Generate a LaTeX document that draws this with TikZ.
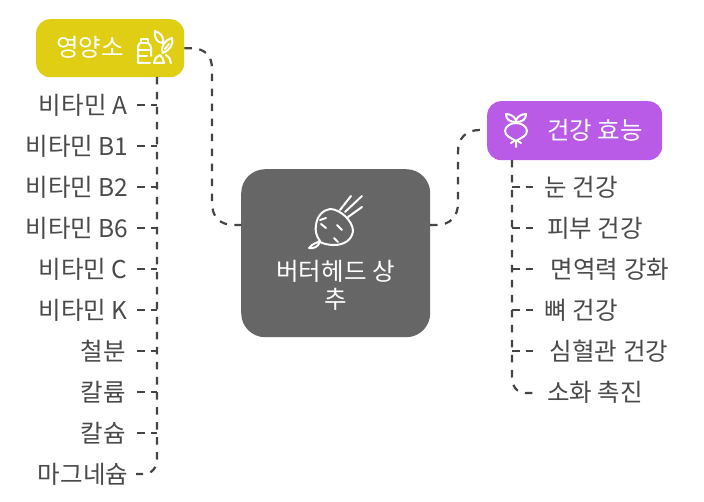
\documentclass[tikz,border=0pt]{standalone}
\usepackage{fontspec}
\setmainfont{Noto Sans CJK KR}
\definecolor{txt}{HTML}{4A4A4A}
\definecolor{ln}{HTML}{444444}
\definecolor{ybox}{HTML}{E0CE14}
\definecolor{gbox}{HTML}{666666}
\definecolor{pbox}{HTML}{B95BE6}
\tikzset{
 lab/.style={font=\fontsize{24.5}{28}\selectfont,text=txt,inner sep=0pt},
 wlab/.style={font=\fontsize{24.5}{28}\selectfont,text=white,inner sep=0pt,align=center},
 conn/.style={draw=ln,line width=2.2pt,dash pattern=on 7.5pt off 7.5pt},
 twig/.style={draw=ln,line width=2.2pt,dash pattern=on 7.5pt off 6pt},
 box/.style={inner sep=0pt,rounded corners=#1,anchor=north west},
 ico/.style={draw=white,line width=2pt,line cap=round,line join=round,fill=none}
}
\begin{document}
\begin{tikzpicture}[x=1pt,y=-1pt]
\useasboundingbox (0,0) rectangle (704,502);
\fill[white] (0,0) rectangle (704,502);
% boxes
\node[box=14pt,fill=ybox,minimum width=148pt,minimum height=58pt] (nut) at (36,19) {};
\node[box=24pt,fill=gbox,minimum width=189pt,minimum height=168pt] (root) at (241,169) {};
\node[box=14pt,fill=pbox,minimum width=175pt,minimum height=59pt] (eff) at (487,101) {};
% connector ends
\coordinate (rootw) at (241,225);
\coordinate (roote) at (430,225);
\coordinate (nutb) at (157,77);
\coordinate (effb) at (512,160);
\coordinate (endl) at (136,474);
\coordinate (endr) at (535,393);
% leaf labels
\node[lab] (a1) at (83,105) {비타민 A};
\node[lab] (a2) at (77,146) {비타민 B1};
\node[lab] (a3) at (77,187) {비타민 B2};
\node[lab] (a4) at (77,228) {비타민 B6};
\node[lab] (a5) at (83,269) {비타민 C};
\node[lab] (a6) at (83,310) {비타민 K};
\node[lab] (a7) at (103,351) {철분};
\node[lab] (a8) at (103,392) {칼륨};
\node[lab] (a9) at (103,433) {칼슘};
\node[lab] (a10) at (83,474) {마그네슘};
\node[lab] (b1) at (581.5,187) {눈 건강};
\node[lab] (b2) at (595,228) {피부 건강};
\node[lab] (b3) at (610,269) {면역력 강화};
\node[lab] (b4) at (581.5,310) {뼈 건강};
\node[lab] (b5) at (609,351) {심혈관 건강};
\node[lab] (b6) at (595,392) {소화 촉진};
% main connectors
\draw[conn] (nut.east) -- ++(6,0) .. controls +(14,0) and (212,55) .. (212,69) -- (212,203) .. controls (212,217) and (220,225) .. (234,225) -- (rootw);
\draw[conn] (roote) -- (436,225) .. controls (450,225) and (458,217) .. (458,203) -- (458,152) .. controls (458,138) and (466,130) .. (480,130) -- (eff.west);
% left trunk
\draw[conn] (nutb) -- (157,458) .. controls (157,468) and (152,474) .. (143,474) -- (endl);
\foreach \n in {a1,a2,a3,a4,a5,a6,a7,a8,a9}
  \draw[twig] (137,0 |- \n.center) -- (157,0 |- \n.center);
% right trunk
\draw[conn] (effb) -- (512,376) .. controls (512,387) and (517,393) .. (526,393) -- (endr);
\foreach \n in {b1,b2,b3,b4,b5}
  \draw[twig] (512,0 |- \n.center) -- (535,0 |- \n.center);
% box labels
\node[wlab] (tn) at (90,47) {영양소};
\node[wlab] (tr) at (335.5,285) {버터헤드 상\\추};
\node[wlab] (te) at (595,130) {건강 효능};
% root icon
\draw[ico] (309,248) .. controls (313,243) and (317,243) .. (320,241)
  .. controls (316,236) and (315,230) .. (316,225)
  .. controls (317,216) and (323,210) .. (330,209)
  .. controls (340,209) and (353,221) .. (353,231)
  .. controls (352,240) and (344,245) .. (334,245)
  .. controls (329,245) and (324,244) .. (320,242)
  .. controls (318,247) and (313,249) .. cycle;
\draw[ico] (340,210) -- (351,196) (345,212) -- (362,196) (348,217) -- (362,207);
\draw[ico] (320,220) -- (326,218) (321,224) -- (326,228) (337,225) -- (342,230) (334,238) -- (338,242);
% effect icon
\draw[ico] (516,123) .. controls (522,123) and (527,127) .. (527,131)
  .. controls (527,136) and (521,138) .. (516,141)
  .. controls (511,138) and (505,136) .. (505,131)
  .. controls (505,127) and (510,123) .. cycle;
\draw[ico] (516,122) .. controls (509,122) and (506,119) .. (506,114)
  .. controls (510,114) and (514,116) .. (516,120)
  .. controls (518,116) and (522,114) .. (526,114)
  .. controls (526,119) and (523,122) .. (516,122);
\draw[ico] (516,141) -- (516,147) (511,143) -- (514,141) (521,143) -- (518,141);
% nutrient icon
\draw[ico] (141,39) -- (148,39) -- (148,43) -- (141,43) -- cycle;
\draw[ico] (140,43) .. controls (138,45) and (138,46) .. (138,48) -- (138,63) -- (150,63);
\draw[ico] (148,43) .. controls (150,45) and (151,46) .. (151,48) -- (151,56);
\draw[ico] (138,50) -- (151,50) (138,56.5) -- (147,56.5);
\draw[ico] (155,31) .. controls (161,33) and (164,37) .. (163,43) .. controls (157,43) and (154,38) .. cycle;
\draw[ico] (172,38) .. controls (174,44) and (170,50) .. (163,53) .. controls (160,46) and (165,40) .. cycle;
\draw[ico] (169,44) -- (165,49);
\draw[ico] (154,63) .. controls (155,58) and (157,56) .. (160,55) .. controls (162,57) and (164,60) .. (164,63) -- cycle;
\draw[ico] (166,55) .. controls (169,57) and (171,60) .. (171,63);
\end{tikzpicture}
\end{document}
